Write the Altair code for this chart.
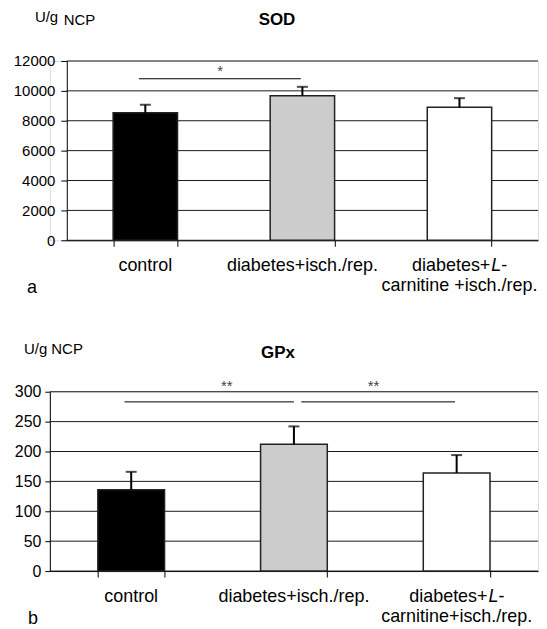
import altair as alt
import pandas as pd

# ---------------- data ----------------
categories = ["control", "diabetes+isch./rep.", "diabetes+L-carnitine+isch./rep."]
bar_fills = ["#000000", "#cccccc", "#ffffff"]

sod_mean = [8530, 9670, 8900]
sod_err = [540, 600, 610]
sod_ticks = [0, 2000, 4000, 6000, 8000, 10000, 12000]

gpx_mean = [136, 212, 164]
gpx_err = [30, 30, 30]
gpx_ticks = [0, 50, 100, 150, 200, 250, 300]

# significance brackets
sod_sig_from = ["control"]
sod_sig_to = ["diabetes+isch./rep."]
sod_sig_y = [10810]
sod_star_y = [11550]
sod_star_text = ["*"]

gpx_sig_from = ["control", "diabetes+isch./rep."]
gpx_sig_to = ["diabetes+isch./rep.", "diabetes+L-carnitine+isch./rep."]
gpx_sig_y = [283, 283]
gpx_star_y = [315, 315]
gpx_star_text = ["**", "**"]

label_simple = ["control", "diabetes+isch./rep."]
label_third_parts = ["diabetes+", "L", "-"]
label_third_line2_a = "carnitine +isch./rep."
label_third_line2_b = "carnitine+isch./rep."

FONT = "Liberation Sans"
H = 180
W = 490
LFS = 18  # category label font size


def panel(mean, err, ticks, ymax, x0, title, title_x, title_y, letter, letter_x,
          unit_parts, line2, sig_from, sig_to, sig_y, star_y, star_text,
          sig_bp, star_dx, tick_font, label_pad, tick_size):
    df = pd.DataFrame({"cat": categories, "mean": mean,
                       "upper": [m + e for m, e in zip(mean, err)]})
    xscale = alt.Scale(domain=categories, paddingInner=0.59, paddingOuter=0.295,
                       range=[x0, W])
    yscale = alt.Scale(domain=[0, ymax], nice=False)
    xaxis = alt.Axis(title=None, labels=False, tickBand="extent",
                     tickSize=6, tickColor="black", domainColor="black",
                     grid=False, tickWidth=1, domainWidth=1)
    yaxis = alt.Axis(title=None, values=ticks, tickCount=50,
                     format="d", labelOverlap=False,
                     labelFontSize=tick_font, labelFont=FONT,
                     labelColor="black", labelPadding=label_pad,
                     tickSize=tick_size, tickColor="black",
                     domainColor="black", grid=False, offset=-x0)

    def X(field="cat", **kw):
        return alt.X(f"{field}:N", sort=categories, scale=xscale, axis=xaxis, **kw)

    def Y(field):
        return alt.Y(f"{field}:Q", scale=yscale, axis=yaxis)

    # gridlines through the y scale
    grid = alt.Chart(pd.DataFrame({"v": ticks})).mark_rule(
        color="#1a1a1a", strokeWidth=1).encode(
        y=Y("v"), x=alt.value(x0), x2=alt.value(W))

    base = alt.Chart(df)
    bars = base.mark_bar(stroke="#222222", strokeWidth=1.5).encode(
        x=X(), y=Y("mean"),
        color=alt.Color("cat:N", scale=alt.Scale(domain=categories, range=bar_fills),
                        legend=None))
    err_rule = base.mark_rule(color="black", strokeWidth=2).encode(
        x=X(), y=Y("mean"), y2="upper:Q")
    cap = base.mark_tick(color="black", orient="horizontal", size=11,
                         thickness=2).encode(x=X(), y=Y("upper"))

    layers = [grid, bars, err_rule, cap]

    sig_df = pd.DataFrame({"f": sig_from, "t": sig_to, "y": sig_y,
                           "sy": star_y, "s": star_text})
    for i in range(len(sig_from)):
        row = sig_df.iloc[[i]]
        bp1, bp2 = sig_bp[i]
        layers.append(alt.Chart(row).mark_rule(color="black", strokeWidth=1).encode(
            x=X("f", bandPosition=bp1),
            x2=alt.X2("t:N", bandPosition=bp2),
            y=Y("y")))
        layers.append(alt.Chart(row).mark_text(
            font=FONT, fontSize=15, color="#444444", dx=star_dx[i], dy=3,
            baseline="middle").encode(x=X("f"), y=Y("sy"), text="s:N"))

    # category labels
    lab_df = pd.DataFrame({"cat": label_simple})
    layers.append(alt.Chart(lab_df).mark_text(
        font=FONT, fontSize=LFS, color="black", baseline="middle").encode(
        x=X(), y=alt.value(H + 26), text="cat:N"))
    third = pd.DataFrame({"cat": [categories[2]], "p1": [label_third_parts[0]],
                          "p2": [label_third_parts[1]], "p3": [label_third_parts[2]],
                          "l2": [line2]})
    tb = alt.Chart(third)
    layers.append(tb.mark_text(font=FONT, fontSize=LFS, color="black", align="right",
                               dx=31, baseline="middle").encode(
        x=X(), y=alt.value(H + 26), text="p1:N"))
    layers.append(tb.mark_text(font=FONT, fontSize=LFS, color="black", align="left",
                               dx=32, fontStyle="italic", baseline="middle").encode(
        x=X(), y=alt.value(H + 26), text="p2:N"))
    layers.append(tb.mark_text(font=FONT, fontSize=LFS, color="black", align="left",
                               dx=42, baseline="middle").encode(
        x=X(), y=alt.value(H + 26), text="p3:N"))
    layers.append(tb.mark_text(font=FONT, fontSize=LFS, color="black",
                               baseline="middle").encode(
        x=X(), y=alt.value(H + 46), text="l2:N"))

    # title, unit, panel letter
    layers.append(alt.Chart(pd.DataFrame({"t": [title]})).mark_text(
        font=FONT, fontSize=17, fontWeight="bold", color="black",
        baseline="middle").encode(
        x=alt.value(title_x), y=alt.value(title_y), text="t:N"))
    for txt, ux, uy in unit_parts:
        layers.append(alt.Chart(pd.DataFrame({"t": [txt]})).mark_text(
            font=FONT, fontSize=15, color="black", align="left",
            baseline="middle").encode(
            x=alt.value(ux), y=alt.value(uy), text="t:N"))
    layers.append(alt.Chart(pd.DataFrame({"t": [letter]})).mark_text(
        font=FONT, fontSize=18, color="black", align="left",
        baseline="middle").encode(
        x=alt.value(letter_x), y=alt.value(H + 48), text="t:N"))

    return alt.layer(*layers).properties(width=W, height=H)


panel_a = panel(sod_mean, sod_err, sod_ticks, 12000, 17, "SOD", 228, -41, "a", -23,
                [("U/g", -15, -44), ("NCP", 14, -41)], label_third_line2_a,
                sod_sig_from, sod_sig_to, sod_sig_y, sod_star_y, sod_star_text,
                [(0.40, 0.476)], [75], 15, 6, 6)
panel_b = panel(gpx_mean, gpx_err, gpx_ticks, 300, 0, "GPx", 229, -39, "b", -22,
                [("U/g NCP", -26, -43)], label_third_line2_b,
                gpx_sig_from, gpx_sig_to, gpx_sig_y, gpx_star_y, gpx_star_text,
                [(0.40, 0.5), (0.61, 0.476)], [96, 80], 16, 4, 5)

chart = alt.concat(panel_a, panel_b, columns=1, spacing=43).properties(
    padding={"left": 4, "top": 0, "right": 0, "bottom": 0},
    background="white",
).configure_view(stroke=None).configure(font=FONT)

chart.save("out.html", embed_options={"renderer": "svg", "actions": False})
